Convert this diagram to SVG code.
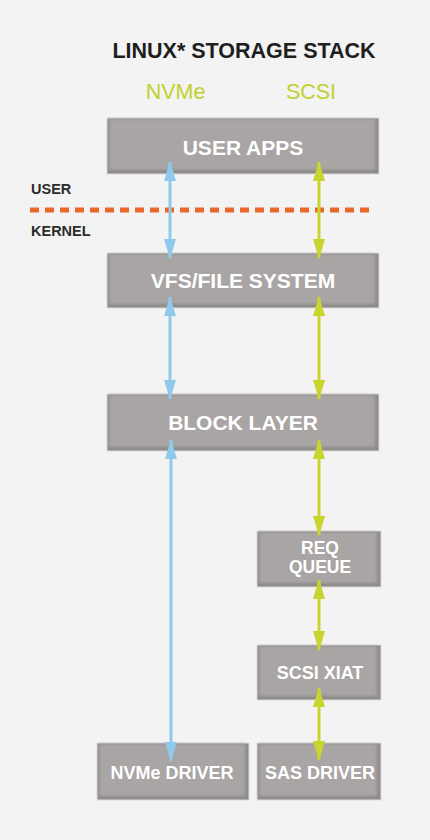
<svg xmlns="http://www.w3.org/2000/svg" width="430" height="840" viewBox="0 0 430 840">
<defs>
<style>
.box{fill:#8e8a89;stroke:#dcdbda;stroke-width:1}
.inner{fill:#a9a5a4;filter:url(#soft)}
.lbl{font-family:"Liberation Sans",Arial,sans-serif;font-weight:bold;fill:#ffffff;text-anchor:middle}
.side{font-family:"Liberation Sans",Arial,sans-serif;font-weight:bold;fill:#2b2b2b;font-size:14.5px}
.blue{stroke:#8fcaed;stroke-width:3;fill:none}
.green{stroke:#c9d42f;stroke-width:3;fill:none}
</style>
<filter id="soft" x="-5%" y="-20%" width="110%" height="140%"><feGaussianBlur stdDeviation="1.6"/></filter>
<marker id="bh" viewBox="0 0 20 12" refX="19" refY="6" markerWidth="20" markerHeight="12" markerUnits="userSpaceOnUse" orient="auto-start-reverse"><path d="M0,0 L20,6 L0,12 Z" fill="#8fcaed"/></marker>
<marker id="gh" viewBox="0 0 20 12" refX="19" refY="6" markerWidth="20" markerHeight="12" markerUnits="userSpaceOnUse" orient="auto-start-reverse"><path d="M0,0 L20,6 L0,12 Z" fill="#c9d42f"/></marker>
</defs>
<rect width="430" height="840" fill="#f2f3f2"/>
<text x="244" y="58" font-family="Liberation Sans,Arial,sans-serif" font-weight="bold" font-size="21.5" fill="#1e1e1e" text-anchor="middle">LINUX* STORAGE STACK</text>
<text x="175.5" y="99" font-family="Liberation Sans,Arial,sans-serif" font-size="21.5" fill="#c2d12f" text-anchor="middle">NVMe</text>
<text x="311" y="99" font-family="Liberation Sans,Arial,sans-serif" font-size="21.5" fill="#c2d12f" text-anchor="middle">SCSI</text>
<text class="side" x="31" y="194">USER</text>
<text class="side" x="31" y="236">KERNEL</text>
<line x1="30" y1="210" x2="374" y2="210" stroke="#e8682a" stroke-width="5" stroke-dasharray="9,6"/>
<g id="user-apps"><rect class="box" x="107" y="118" width="272" height="56"/><rect class="inner" x="109" y="119" width="266" height="51"/><text class="lbl" x="243" y="155" font-size="21">USER APPS</text></g>
<g id="vfs"><rect class="box" x="107" y="253" width="272" height="55"/><rect class="inner" x="109" y="254" width="266" height="50"/><text class="lbl" x="243" y="288" font-size="21">VFS/FILE SYSTEM</text></g>
<g id="block-layer"><rect class="box" x="107" y="394" width="272" height="57"/><rect class="inner" x="109" y="395" width="266" height="52"/><text class="lbl" x="243" y="430" font-size="21">BLOCK LAYER</text></g>
<g id="req-queue"><rect class="box" x="257" y="531" width="124" height="56"/><rect class="inner" x="259" y="532" width="118" height="51"/><text class="lbl" x="320" y="554" font-size="17.5">REQ</text><text class="lbl" x="320" y="573" font-size="17.5">QUEUE</text></g>
<g id="scsi-xiat"><rect class="box" x="257" y="645" width="124" height="55"/><rect class="inner" x="259" y="646" width="118" height="50"/><text class="lbl" x="320" y="679" font-size="18">SCSI XIAT</text></g>
<g id="nvme-driver"><rect class="box" x="97" y="743" width="152" height="57"/><rect class="inner" x="99" y="744" width="146" height="52"/><text class="lbl" x="172" y="779" font-size="18">NVMe DRIVER</text></g>
<g id="sas-driver"><rect class="box" x="257" y="743" width="124" height="57"/><rect class="inner" x="259" y="744" width="118" height="52"/><text class="lbl" x="320" y="779" font-size="18">SAS DRIVER</text></g>
<g id="connectors">
<line class="blue" x1="170" y1="162" x2="170" y2="258" marker-start="url(#bh)" marker-end="url(#bh)"/>
<line class="blue" x1="170" y1="297" x2="170" y2="399" marker-start="url(#bh)" marker-end="url(#bh)"/>
<line class="blue" x1="171" y1="440" x2="171" y2="761" marker-start="url(#bh)" marker-end="url(#bh)"/>
<line class="green" x1="319" y1="162" x2="319" y2="258" marker-start="url(#gh)" marker-end="url(#gh)"/>
<line class="green" x1="319" y1="297" x2="319" y2="399" marker-start="url(#gh)" marker-end="url(#gh)"/>
<line class="green" x1="319" y1="440" x2="319" y2="535" marker-start="url(#gh)" marker-end="url(#gh)"/>
<line class="green" x1="319" y1="580" x2="319" y2="650" marker-start="url(#gh)" marker-end="url(#gh)"/>
<line class="green" x1="319" y1="688" x2="319" y2="760" marker-start="url(#gh)" marker-end="url(#gh)"/>
</g>
</svg>
